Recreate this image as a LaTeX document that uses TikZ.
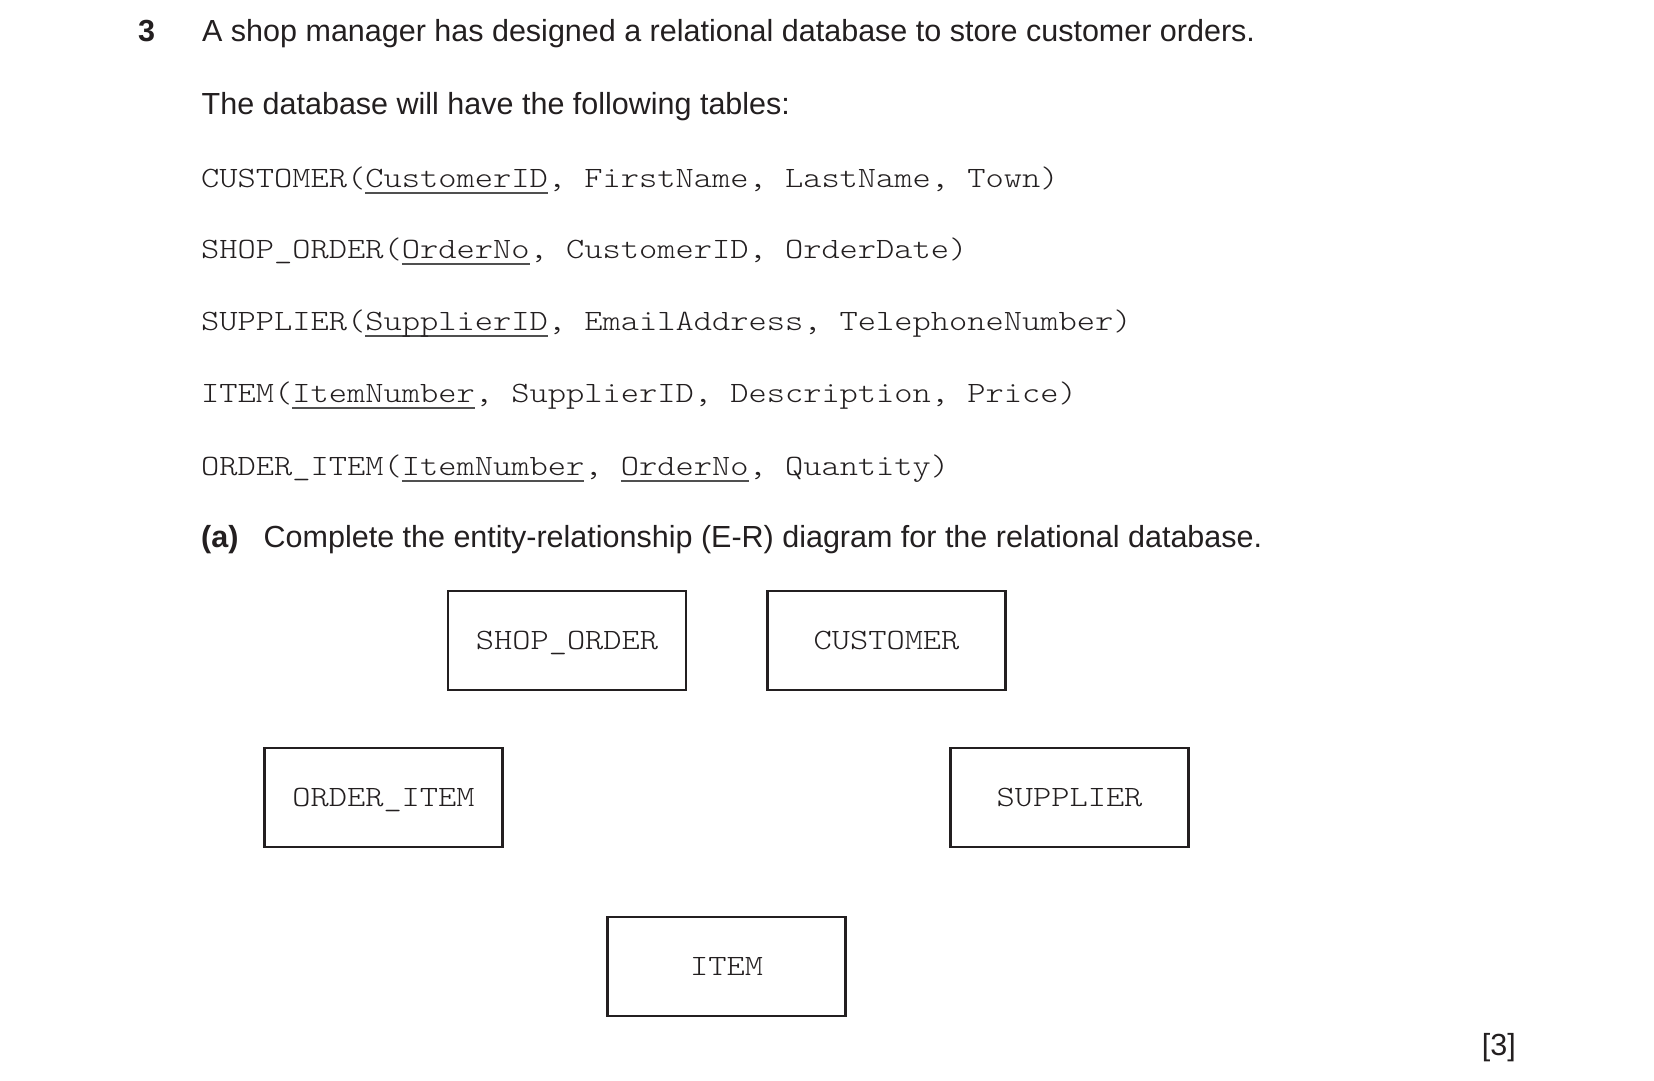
\documentclass[tikz,border=0pt]{standalone}
\usepackage{fontspec}
\setmainfont{Liberation Sans}
\newfontfamily\cour[FakeStretch=1.178]{lmmonolt10-regular.otf}
\definecolor{ink}{HTML}{231F20}
\definecolor{ulgray}{HTML}{505050}
\newcommand\ukey[1]{\setbox0=\hbox{#1}\rlap{\textcolor{ulgray}{\rule[-6.6pt]{\wd0}{1.3pt}}}\box0}
\frenchspacing
\begin{document}
\begin{tikzpicture}[x=1pt,y=-1pt,
  sans/.style={font=\fontsize{30.5}{36}\selectfont, text=ink, inner sep=0pt, anchor=base west},
  sansb/.style={sans, font=\fontsize{30.5}{36}\selectfont\bfseries},
  mono/.style={font=\cour\fontsize{29.5}{36}\selectfont, text=ink, inner sep=0pt, anchor=base west},
  ent/.style={draw=ink, line width=2.3pt, rectangle, minimum width=238pt, minimum height=99pt,
    inner sep=0pt, text height=18pt, text depth=0pt, font=\cour\fontsize{29.5}{36}\selectfont, text=ink}]
\useasboundingbox (0,0) rectangle (1654,1080);
\fill[white] (0,0) rectangle (1654,1080);

\node[sansb] (qnum) at (138,41) {3};
\node[sans] (l1) at (202,41) {A shop manager has designed a relational database to store customer orders.};
\node[sans] (l2) at (201.5,114) {The database will have the following tables:};

\node[mono] (t1) at (201,187) {CUSTOMER(\ukey{CustomerID}, FirstName, LastName, Town)};
\node[mono] (t2) at (201,258) {SHOP\_ORDER(\ukey{OrderNo}, CustomerID, OrderDate)};
\node[mono] (t3) at (201,330) {SUPPLIER(\ukey{SupplierID}, EmailAddress, TelephoneNumber)};
\node[mono] (t4) at (201,402) {ITEM(\ukey{ItemNumber}, SupplierID, Description, Price)};
\node[mono] (t5) at (201,475) {ORDER\_ITEM(\ukey{ItemNumber}, \ukey{OrderNo}, Quantity)};

\node[sansb] (pa) at (201,547) {(a)};
\node[sans] (pat) at (263.5,547) {Complete the entity-relationship (E-R) diagram for the relational database.};

\node[ent] (shop) at (567,640.5) {SHOP\_ORDER};
\node[ent] (cust) at (886.5,640.5) {CUSTOMER};
\node[ent] (oitem) at (383.5,797.5) {ORDER\_ITEM};
\node[ent] (supp) at (1069.5,797.5) {SUPPLIER};
\node[ent] (item) at (726.5,966.5) {ITEM};

\node[sans, anchor=base east] (marks) at (1516,1055) {[3]};
\end{tikzpicture}
\end{document}
